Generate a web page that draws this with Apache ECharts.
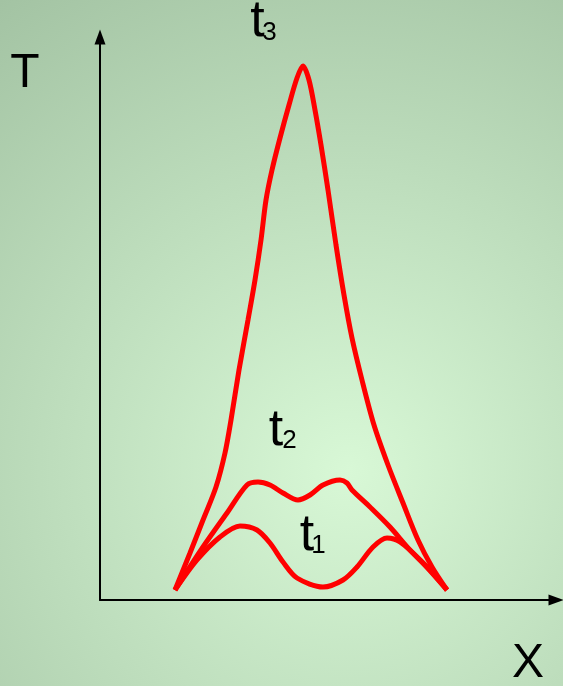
<!DOCTYPE html>
<html>
<head>
<meta charset="utf-8">
<script src="https://cdn.jsdelivr.net/npm/echarts@6/dist/echarts.min.js"></script>
<style>
html, body { margin: 0; padding: 0; }
#chart { width: 563px; height: 686px; }
</style>
</head>
<body>
<div id="chart"></div>
<script>
// curve points [x, T]
var t1Points = [[75, 10], [97, 40], [120, 63], [140, 74], [157, 70], [170, 57], [183, 38], [197, 22],
	[223, 13], [243, 20], [257, 33], [273, 53], [287, 62], [300, 58], [320, 40], [347, 10]];
var t2Points = [[75, 10], [103, 53], [127, 87], [147, 115], [158, 118], [170, 115], [183, 107], [198, 100],
	[210, 105], [223, 115], [240, 120], [247, 117], [252, 110], [270, 93], [290, 73], [310, 50], [330, 30], [347, 10]];
var t3Points = [[75, 10], [90, 47], [103, 80], [116, 113], [125, 147], [131, 180], [139, 230], [148, 280],
	[155, 320], [161, 360], [166, 400], [172, 430], [180, 462], [189, 495], [197, 522], [203, 534],
	[209, 520], [215, 490], [221, 455], [228, 410], [236, 355], [244, 305], [252, 262], [262, 220],
	[274, 175], [288, 135], [303, 97], [318, 60], [332, 33], [347, 10]];
var xMax = 456;
var yMax = 563;

var chart = echarts.init(document.getElementById('chart'));

function axisOpt(max){
	return {
		type: 'value',
		min: 0,
		max: max,
		axisLine: {
			show: true,
			symbol: ['none', 'triangle'],
			symbolSize: [11, 15],
			lineStyle: {color: '#000', width: 2}
		},
		axisTick: {show: false},
		axisLabel: {show: false},
		splitLine: {show: false}
	};
}

function curve(name, pts){
	return {
		name: name,
		type: 'line',
		data: pts,
		smooth: 0.3,
		showSymbol: false,
		lineStyle: {color: '#ff0000', width: 5},
		silent: true
	};
}

function label(text, x, y, size){
	return {
		type: 'text',
		x: x,
		y: y,
		style: {
			text: text,
			fill: '#000',
			font: size + 'px "Liberation Sans", Arial, sans-serif',
			align: 'center',
			verticalAlign: 'middle'
		}
	};
}

var option = {
	animation: false,
	backgroundColor: {
		type: 'radial',
		x: 0.62, y: 0.685, r: 1.04,
		colorStops: [
			{offset: 0, color: '#d8f8d6'},
			{offset: 1, color: '#a3c3a3'}
		]
	},
	grid: {left: 100, top: 37, right: 7, bottom: 86},
	xAxis: axisOpt(xMax),
	yAxis: axisOpt(yMax),
	series: [
		curve('t1', t1Points),
		curve('t2', t2Points),
		curve('t3', t3Points)
	],
	graphic: [
		label('T', 25, 74, 48),
		label('X', 528, 664, 48),
		label('t', 257.5, 22, 52),
		label('3', 269.5, 33, 26),
		label('t', 276, 431, 52),
		label('2', 289.5, 441, 26),
		label('t', 307, 536, 52),
		label('1', 318.5, 546, 26)
	]
};

chart.setOption(option);
</script>
</body>
</html>
